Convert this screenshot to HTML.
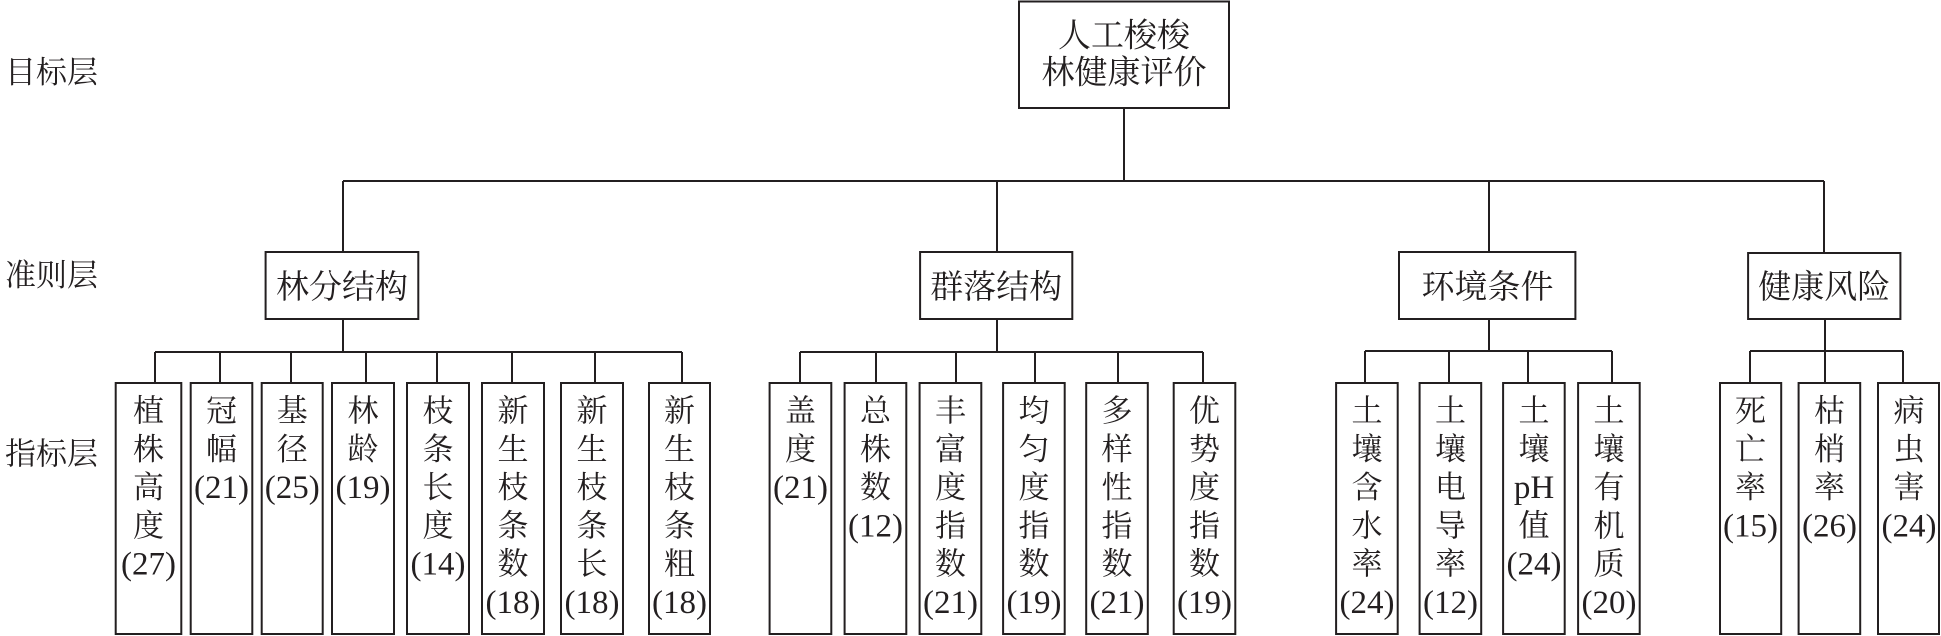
<!DOCTYPE html>
<html>
<head>
<meta charset="utf-8">
<style>
html,body{margin:0;padding:0;background:#fff;}
body{width:1941px;height:636px;overflow:hidden;}
svg{display:block;}
.c{font-family:"Liberation Serif","Noto Serif CJK SC","Noto Sans CJK SC",serif;font-size:31px;fill:#231f20;}
.n{font-family:"Liberation Serif","Noto Serif CJK SC",serif;font-size:33px;fill:#231f20;}
.b{font-family:"Liberation Serif","Noto Serif CJK SC","Noto Sans CJK SC",serif;font-size:33px;fill:#231f20;}
</style>
</head>
<body>
<svg width="1941" height="636" viewBox="0 0 1941 636" xmlns="http://www.w3.org/2000/svg">
<g fill="none" stroke="#231f20" stroke-width="2">
  <!-- root -->
  <rect x="1019" y="1.5" width="210" height="106.5"/>
  <line x1="1124" y1="108" x2="1124" y2="181"/>
  <line x1="343" y1="181" x2="1824" y2="181"/>
  <line x1="343" y1="181" x2="343" y2="252"/>
  <line x1="997" y1="181" x2="997" y2="252"/>
  <line x1="1489" y1="181" x2="1489" y2="252"/>
  <line x1="1824" y1="181" x2="1824" y2="253"/>
  <!-- criteria boxes -->
  <rect x="265.6" y="252" width="152.7" height="67"/>
  <rect x="920.1" y="252" width="152.2" height="67"/>
  <rect x="1399" y="252" width="176.4" height="67"/>
  <rect x="1748.1" y="253" width="152.3" height="66"/>
  <!-- group 1 connectors -->
  <line x1="343" y1="319" x2="343" y2="352"/>
  <line x1="155" y1="352" x2="682" y2="352"/>
  <line x1="155" y1="352" x2="155" y2="383"/>
  <line x1="220" y1="352" x2="220" y2="383"/>
  <line x1="291" y1="352" x2="291" y2="383"/>
  <line x1="366" y1="352" x2="366" y2="383"/>
  <line x1="437" y1="352" x2="437" y2="383"/>
  <line x1="512" y1="352" x2="512" y2="383"/>
  <line x1="595" y1="352" x2="595" y2="383"/>
  <line x1="682" y1="352" x2="682" y2="383"/>
  <!-- group 2 connectors -->
  <line x1="997" y1="319" x2="997" y2="352"/>
  <line x1="800" y1="352" x2="1203" y2="352"/>
  <line x1="800" y1="352" x2="800" y2="383"/>
  <line x1="876" y1="352" x2="876" y2="383"/>
  <line x1="956" y1="352" x2="956" y2="383"/>
  <line x1="1035" y1="352" x2="1035" y2="383"/>
  <line x1="1118" y1="352" x2="1118" y2="383"/>
  <line x1="1203" y1="352" x2="1203" y2="383"/>
  <!-- group 3 connectors -->
  <line x1="1489" y1="319" x2="1489" y2="351"/>
  <line x1="1365" y1="351" x2="1612" y2="351"/>
  <line x1="1365" y1="351" x2="1365" y2="383"/>
  <line x1="1449" y1="351" x2="1449" y2="383"/>
  <line x1="1528" y1="351" x2="1528" y2="383"/>
  <line x1="1612" y1="351" x2="1612" y2="383"/>
  <!-- group 4 connectors -->
  <line x1="1825" y1="319" x2="1825" y2="383"/>
  <line x1="1750" y1="351" x2="1903" y2="351"/>
  <line x1="1750" y1="351" x2="1750" y2="383"/>
  <line x1="1903" y1="351" x2="1903" y2="383"/>
  <!-- indicator boxes -->
  <rect x="115.7" y="383" width="65.6" height="251"/>
  <rect x="190.7" y="383" width="61.6" height="251"/>
  <rect x="261.7" y="383" width="61" height="251"/>
  <rect x="332" y="383" width="62" height="251"/>
  <rect x="407" y="383" width="62" height="251"/>
  <rect x="482" y="383" width="62" height="251"/>
  <rect x="561" y="383" width="62" height="251"/>
  <rect x="649" y="383" width="61" height="251"/>

  <rect x="769.6" y="383" width="61.7" height="251"/>
  <rect x="844.6" y="383" width="61.7" height="251"/>
  <rect x="919.6" y="383" width="61.7" height="251"/>
  <rect x="1003.1" y="383" width="61.6" height="251"/>
  <rect x="1086.2" y="383" width="61.6" height="251"/>
  <rect x="1173.7" y="383" width="61.6" height="251"/>

  <rect x="1336.1" y="383" width="61.6" height="251"/>
  <rect x="1419.6" y="383" width="61.6" height="251"/>
  <rect x="1503.1" y="383" width="61.6" height="251"/>
  <rect x="1578.1" y="383" width="61.6" height="251"/>

  <rect x="1720" y="383" width="61.2" height="251"/>
  <rect x="1798.6" y="383" width="61.6" height="251"/>
  <rect x="1878" y="383" width="61" height="251"/>
</g>

<!-- left labels -->
<text class="c" x="5" y="82.8">目标层</text>
<text class="c" x="5" y="285.8">准则层</text>
<text class="c" x="5" y="464.3">指标层</text>

<!-- root text -->
<text class="b" x="1124" y="46.5" text-anchor="middle">人工梭梭</text>
<text class="b" x="1124" y="83.5" text-anchor="middle">林健康评价</text>

<!-- criteria text -->
<text class="b" x="342" y="298" text-anchor="middle">林分结构</text>
<text class="b" x="996.2" y="298" text-anchor="middle">群落结构</text>
<text class="b" x="1487.5" y="298" text-anchor="middle">环境条件</text>
<text class="b" x="1824.3" y="298" text-anchor="middle">健康风险</text>

<!-- indicators: rows baselines 421.5, 459.8, 498.1, 536.4, 574.7, 613.0 -->
<g text-anchor="middle">
  <!-- G1 -->
  <text class="c" x="148.5"><tspan x="148.5" y="421.5">植</tspan><tspan x="148.5" y="459.8">株</tspan><tspan x="148.5" y="498.1">高</tspan><tspan x="148.5" y="536.4">度</tspan></text>
  <text class="n" x="148.5" y="574.7">(27)</text>

  <text class="c"><tspan x="221.5" y="421.5">冠</tspan><tspan x="221.5" y="459.8">幅</tspan></text>
  <text class="n" x="221.5" y="498.1">(21)</text>

  <text class="c"><tspan x="292.2" y="421.5">基</tspan><tspan x="292.2" y="459.8">径</tspan></text>
  <text class="n" x="292.2" y="498.1">(25)</text>

  <text class="c"><tspan x="363" y="421.5">林</tspan><tspan x="363" y="459.8">龄</tspan></text>
  <text class="n" x="363" y="498.1">(19)</text>

  <text class="c"><tspan x="438" y="421.5">枝</tspan><tspan x="438" y="459.8">条</tspan><tspan x="438" y="498.1">长</tspan><tspan x="438" y="536.4">度</tspan></text>
  <text class="n" x="438" y="574.7">(14)</text>

  <text class="c"><tspan x="513" y="421.5">新</tspan><tspan x="513" y="459.8">生</tspan><tspan x="513" y="498.1">枝</tspan><tspan x="513" y="536.4">条</tspan><tspan x="513" y="574.7">数</tspan></text>
  <text class="n" x="513" y="613">(18)</text>

  <text class="c"><tspan x="592" y="421.5">新</tspan><tspan x="592" y="459.8">生</tspan><tspan x="592" y="498.1">枝</tspan><tspan x="592" y="536.4">条</tspan><tspan x="592" y="574.7">长</tspan></text>
  <text class="n" x="592" y="613">(18)</text>

  <text class="c"><tspan x="679.5" y="421.5">新</tspan><tspan x="679.5" y="459.8">生</tspan><tspan x="679.5" y="498.1">枝</tspan><tspan x="679.5" y="536.4">条</tspan><tspan x="679.5" y="574.7">粗</tspan></text>
  <text class="n" x="679.5" y="613">(18)</text>

  <!-- G2 -->
  <text class="c"><tspan x="800.5" y="421.5">盖</tspan><tspan x="800.5" y="459.8">度</tspan></text>
  <text class="n" x="800.5" y="498.1">(21)</text>

  <text class="c"><tspan x="875.5" y="421.5">总</tspan><tspan x="875.5" y="459.8">株</tspan><tspan x="875.5" y="498.1">数</tspan></text>
  <text class="n" x="875.5" y="536.4">(12)</text>

  <text class="c"><tspan x="950.5" y="421.5">丰</tspan><tspan x="950.5" y="459.8">富</tspan><tspan x="950.5" y="498.1">度</tspan><tspan x="950.5" y="536.4">指</tspan><tspan x="950.5" y="574.7">数</tspan></text>
  <text class="n" x="950.5" y="613">(21)</text>

  <text class="c"><tspan x="1034" y="421.5">均</tspan><tspan x="1034" y="459.8">匀</tspan><tspan x="1034" y="498.1">度</tspan><tspan x="1034" y="536.4">指</tspan><tspan x="1034" y="574.7">数</tspan></text>
  <text class="n" x="1034" y="613">(19)</text>

  <text class="c"><tspan x="1117" y="421.5">多</tspan><tspan x="1117" y="459.8">样</tspan><tspan x="1117" y="498.1">性</tspan><tspan x="1117" y="536.4">指</tspan><tspan x="1117" y="574.7">数</tspan></text>
  <text class="n" x="1117" y="613">(21)</text>

  <text class="c"><tspan x="1204.5" y="421.5">优</tspan><tspan x="1204.5" y="459.8">势</tspan><tspan x="1204.5" y="498.1">度</tspan><tspan x="1204.5" y="536.4">指</tspan><tspan x="1204.5" y="574.7">数</tspan></text>
  <text class="n" x="1204.5" y="613">(19)</text>

  <!-- G3 -->
  <text class="c"><tspan x="1367" y="421.5">土</tspan><tspan x="1367" y="459.8">壤</tspan><tspan x="1367" y="498.1">含</tspan><tspan x="1367" y="536.4">水</tspan><tspan x="1367" y="574.7">率</tspan></text>
  <text class="n" x="1367" y="613">(24)</text>

  <text class="c"><tspan x="1450.5" y="421.5">土</tspan><tspan x="1450.5" y="459.8">壤</tspan><tspan x="1450.5" y="498.1">电</tspan><tspan x="1450.5" y="536.4">导</tspan><tspan x="1450.5" y="574.7">率</tspan></text>
  <text class="n" x="1450.5" y="613">(12)</text>

  <text class="c"><tspan x="1534" y="421.5">土</tspan><tspan x="1534" y="459.8">壤</tspan></text>
  <text class="n" x="1534" y="498.1">pH</text>
  <text class="c" x="1534" y="536.4">值</text>
  <text class="n" x="1534" y="574.7">(24)</text>

  <text class="c"><tspan x="1609" y="421.5">土</tspan><tspan x="1609" y="459.8">壤</tspan><tspan x="1609" y="498.1">有</tspan><tspan x="1609" y="536.4">机</tspan><tspan x="1609" y="574.7">质</tspan></text>
  <text class="n" x="1609" y="613">(20)</text>

  <!-- G4 -->
  <text class="c"><tspan x="1750.5" y="421.5">死</tspan><tspan x="1750.5" y="459.8">亡</tspan><tspan x="1750.5" y="498.1">率</tspan></text>
  <text class="n" x="1750.5" y="536.4">(15)</text>

  <text class="c"><tspan x="1829.5" y="421.5">枯</tspan><tspan x="1829.5" y="459.8">梢</tspan><tspan x="1829.5" y="498.1">率</tspan></text>
  <text class="n" x="1829.5" y="536.4">(26)</text>

  <text class="c"><tspan x="1909" y="421.5">病</tspan><tspan x="1909" y="459.8">虫</tspan><tspan x="1909" y="498.1">害</tspan></text>
  <text class="n" x="1909" y="536.4">(24)</text>
</g>
</svg>
</body>
</html>
